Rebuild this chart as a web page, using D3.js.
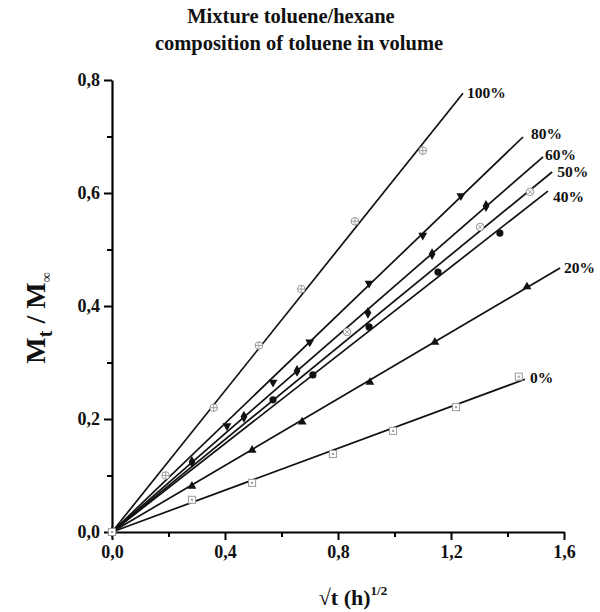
<!DOCTYPE html>
<html>
<head>
<meta charset="utf-8">
<script src="https://cdn.jsdelivr.net/npm/d3@7/dist/d3.min.js"></script>
<style>
	body { margin: 0; background: #fff; }
	text { font-family: 'Liberation Serif', 'Times New Roman', serif; font-weight: bold; fill: #111; }
</style>
</head>
<body>
<div id="chart"></div>
<script>
// series names (toluene volume fraction)
const seriesNames = ['100%', '80%', '60%', '50%', '40%', '20%', '0%'];

// measured points [sqrt(t), Mt/Minf]
const pts100 = [[0, 0], [0.19, 0.10], [0.36, 0.22], [0.52, 0.33], [0.67, 0.43], [0.86, 0.55], [1.10, 0.675]];
const pts80 = [[0, 0], [0.407, 0.188], [0.57, 0.265], [0.70, 0.336], [0.91, 0.44], [1.10, 0.525], [1.235, 0.595]];
const pts60 = [[0, 0], [0.283, 0.124], [0.467, 0.204], [0.655, 0.285], [0.906, 0.388], [1.133, 0.492], [1.324, 0.577]];
const pts50 = [[0, 0], [0.832, 0.354], [1.303, 0.54], [1.48, 0.602]];
const pts40 = [[0, 0], [0.57, 0.234], [0.711, 0.278], [0.91, 0.363], [1.154, 0.46], [1.373, 0.529]];
const pts20 = [[0, 0], [0.283, 0.081], [0.496, 0.145], [0.673, 0.195], [0.913, 0.265], [1.143, 0.336], [1.469, 0.434]];
const pts0 = [[0, 0], [0.283, 0.057], [0.496, 0.087], [0.782, 0.138], [0.995, 0.179], [1.218, 0.221], [1.44, 0.275]];

// linear fits through the origin: slope and last x of the drawn line
const fitSlope = [0.625, 0.4805, 0.435, 0.409, 0.391, 0.2946, 0.185];
const fitXmax = [1.2425, 1.455, 1.526, 1.558, 1.543, 1.586, 1.462];

// axis ticks
const xTicks = [0, 0.4, 0.8, 1.2, 1.6];
const xTickLabels = ['0,0', '0,4', '0,8', '1,2', '1,6'];
const xMinor = [0.2, 0.6, 1.0, 1.4];
const yTicks = [0, 0.2, 0.4, 0.6, 0.8];
const yTickLabels = ['0,0', '0,2', '0,4', '0,6', '0,8'];
const yMinor = [0.1, 0.3, 0.5, 0.7];

const allPts = [pts100, pts80, pts60, pts50, pts40, pts20, pts0];

const width = 600, height = 612;
const margin = { top: 80, right: 36, bottom: 80, left: 112 };

const svg = d3.select('#chart').append('svg').attr('width', width).attr('height', height);

const x = d3.scaleLinear().domain([0, 1.6]).range([margin.left, width - margin.right]);
const y = d3.scaleLinear().domain([0, 0.8]).range([height - margin.bottom, margin.top]);

// title
svg.append('text').attr('x', 291).attr('y', 23).attr('text-anchor', 'middle')
	.style('font-size', '20.5px').text('Mixture toluene/hexane');
svg.append('text').attr('x', 299).attr('y', 50).attr('text-anchor', 'middle')
	.style('font-size', '20.5px').text('composition of toluene in volume');

// axes - minor ticks first, then major with labels
svg.append('g').attr('transform', `translate(0,${y(0)})`)
	.call(d3.axisBottom(x).tickValues(xMinor).tickSize(5).tickSizeOuter(0).tickFormat(''))
	.call(g => g.select('.domain').remove())
	.selectAll('line').attr('stroke-width', 2);
const xAxis = svg.append('g').attr('transform', `translate(0,${y(0)})`)
	.call(d3.axisBottom(x).tickValues(xTicks).tickSize(8).tickSizeOuter(0).tickPadding(5)
		.tickFormat((d, i) => xTickLabels[i]));
xAxis.select('.domain').attr('stroke-width', 2.2);
xAxis.selectAll('line').attr('stroke-width', 2);
xAxis.selectAll('text').style('font-size', '18px').style('font-family', null);

svg.append('g').attr('transform', `translate(${x(0)},0)`)
	.call(d3.axisLeft(y).tickValues(yMinor).tickSize(5).tickSizeOuter(0).tickFormat(''))
	.call(g => g.select('.domain').remove())
	.selectAll('line').attr('stroke-width', 2);
const yAxis = svg.append('g').attr('transform', `translate(${x(0)},0)`)
	.call(d3.axisLeft(y).tickValues(yTicks).tickSize(8).tickSizeOuter(0).tickPadding(4)
		.tickFormat((d, i) => yTickLabels[i]));
yAxis.select('.domain').attr('stroke-width', 2.2);
yAxis.selectAll('line').attr('stroke-width', 2);
yAxis.selectAll('text').style('font-size', '18px').style('font-family', null);

// axis titles
const yLab = svg.append('text').attr('transform', 'translate(45,318) rotate(-90)')
	.attr('text-anchor', 'middle').style('font-size', '28px');
yLab.append('tspan').text('M');
yLab.append('tspan').attr('dy', 7).style('font-size', '20px').text('t');
yLab.append('tspan').attr('dy', -7).text(' / M');
yLab.append('tspan').attr('dy', 6).style('font-size', '14px').text('\u221E');

const xLab = svg.append('text').attr('x', 353).attr('y', 605)
	.attr('text-anchor', 'middle').style('font-size', '22px');
xLab.append('tspan').text('\u221At (h)');
xLab.append('tspan').attr('dy', -10).style('font-size', '13px').text('1/2');

// fit lines
const line = d3.line().x(d => x(d[0])).y(d => y(d[1]));
seriesNames.forEach((name, i) => {
	svg.append('path')
		.datum([[0, 0], [fitXmax[i], fitSlope[i] * fitXmax[i]]])
		.attr('fill', 'none').attr('stroke', '#111').attr('stroke-width', 1.7)
		.attr('d', line);
});

// markers
const grey = '#9a9a9a';
function drawMarker(g, i) {
	if (i === 0 || i === 3) {
		g.append('circle').attr('r', 3.8).attr('fill', 'white').attr('stroke', grey).attr('stroke-width', 1);
		if (i === 0) {
			g.append('path').attr('d', 'M-3.8,0H3.8M0,-3.8V3.8').attr('stroke', grey).attr('stroke-width', 0.9);
		} else {
			g.append('path').attr('d', 'M-2.7,-2.7L2.7,2.7M-2.7,2.7L2.7,-2.7').attr('stroke', grey).attr('stroke-width', 0.9);
		}
	} else if (i === 6) {
		g.append('rect').attr('x', -3.5).attr('y', -3.5).attr('width', 7).attr('height', 7)
			.attr('fill', 'white').attr('stroke', grey).attr('stroke-width', 1);
		g.append('rect').attr('x', -1).attr('y', -1).attr('width', 2).attr('height', 2).attr('fill', grey);
	} else if (i === 1) {
		g.append('path').attr('d', d3.symbol(d3.symbolTriangle, 34)()).attr('transform', 'rotate(180)').attr('fill', '#111');
	} else if (i === 5) {
		g.append('path').attr('d', d3.symbol(d3.symbolTriangle, 34)()).attr('fill', '#111');
	} else if (i === 2) {
		g.append('path').attr('d', d3.symbol(d3.symbolDiamond, 40)()).attr('fill', '#111');
	} else {
		g.append('circle').attr('r', 3.6).attr('fill', '#111');
	}
}

allPts.forEach((pts, i) => {
	svg.append('g').selectAll('g').data(pts).enter().append('g')
		.attr('transform', d => `translate(${x(d[0])},${y(d[1])})`)
		.each(function () { drawMarker(d3.select(this), i); });
});

// series labels next to line ends
const labelShift = [[4, 5], [8, 2], [2, 3], [5, 5], [5, 11], [4, 5], [5, 4]];
seriesNames.forEach((name, i) => {
	svg.append('text')
		.attr('x', x(fitXmax[i]) + labelShift[i][0])
		.attr('y', y(fitSlope[i] * fitXmax[i]) + labelShift[i][1])
		.style('font-size', '15.5px').text(name);
});
</script>
</body>
</html>
